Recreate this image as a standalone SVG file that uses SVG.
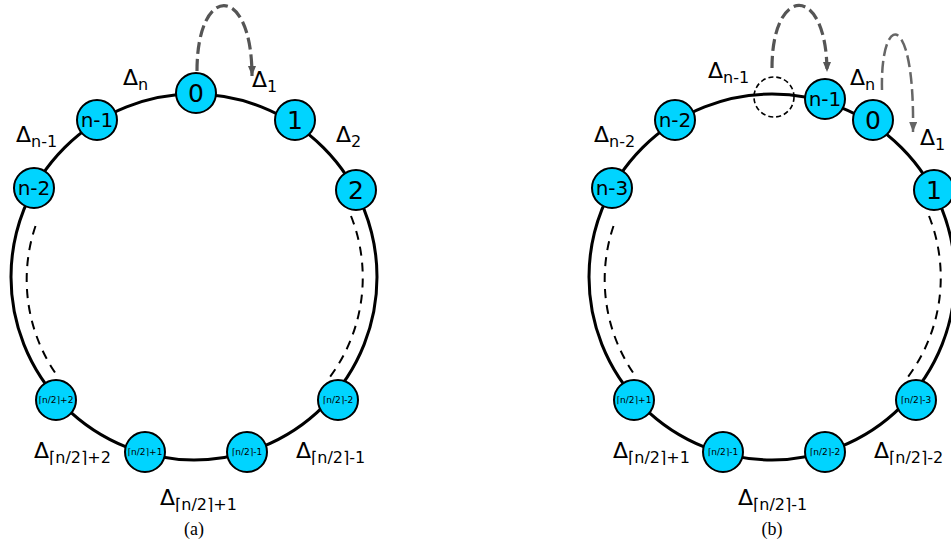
<svg xmlns="http://www.w3.org/2000/svg" width="951" height="543" viewBox="0 0 951 543">
<style>
.ring{fill:none;stroke:#000;stroke-width:3}
.darc{fill:none;stroke:#000;stroke-width:2;stroke-dasharray:9 7}
.node{fill:#00d4ff;stroke:#000;stroke-width:2}
.ghost{fill:none;stroke:#000;stroke-width:1.6;stroke-dasharray:5 3}
.loop{fill:none;stroke:#555;stroke-width:3.2;stroke-dasharray:12 5}
.loop2{fill:none;stroke:#666;stroke-width:2.5;stroke-dasharray:12 5}
.big{font-family:"DejaVu Sans",sans-serif;font-size:25px;text-anchor:middle}
.mid{font-family:"DejaVu Sans",sans-serif;font-size:20px;text-anchor:middle}
.sm{font-family:"DejaVu Sans",sans-serif;font-size:9px;text-anchor:middle}
.lab{font-family:"DejaVu Sans",sans-serif;font-size:22px}
.sub{font-size:16px}
.cap{font-family:"Liberation Serif",serif;font-size:18px;text-anchor:middle}
</style>
<defs>
<marker id="ah" markerUnits="userSpaceOnUse" markerWidth="12" markerHeight="10" refX="10" refY="4" orient="auto">
<path d="M0,0 L10,4 L0,8 Z" fill="#555"/>
</marker>
<marker id="ah2" markerUnits="userSpaceOnUse" markerWidth="12" markerHeight="10" refX="10" refY="4" orient="auto">
<path d="M0,0 L10,4 L0,8 Z" fill="#666"/>
</marker>
</defs>

<g id="connectors">
<circle class="ring" cx="194" cy="277" r="183"/>
<path class="darc" d="M35.5,226 A167,167 0 0 0 58.8,378"/>
<path class="darc" d="M351,216 A167,167 0 0 1 329.2,378"/>
<path class="loop" d="M197,71 C197,-17 252,-17 252,76" marker-end="url(#ah)"/>

<circle class="ring" cx="772" cy="277" r="183"/>
<path class="darc" d="M613.5,226 A167,167 0 0 0 636.8,378"/>
<path class="darc" d="M929,216 A167,167 0 0 1 907.2,378"/>
<path class="loop" d="M772,68 C772,-16 827,-16 827,72" marker-end="url(#ah)"/>
<path class="loop2" d="M882,90 C880,12 915,8 913,132" marker-end="url(#ah2)"/>
</g>

<g id="node-a-0"><circle class="node" cx="196" cy="93" r="20"/><text class="big" x="196" y="102">0</text></g>
<g id="node-a-1"><circle class="node" cx="295" cy="120" r="20"/><text class="big" x="295" y="129">1</text></g>
<g id="node-a-2"><circle class="node" cx="356" cy="190" r="20"/><text class="big" x="356" y="199">2</text></g>
<g id="node-a-n1"><circle class="node" cx="97" cy="120" r="20"/><text class="mid" x="97" y="127">n-1</text></g>
<g id="node-a-n2"><circle class="node" cx="34" cy="188" r="20"/><text class="mid" x="34" y="195">n-2</text></g>
<g id="node-a-h2"><circle class="node" cx="56" cy="400" r="20"/><text class="sm" x="56" y="403">⌈n/2⌉+2</text></g>
<g id="node-a-h1"><circle class="node" cx="145" cy="452" r="20"/><text class="sm" x="145" y="455">⌈n/2⌉+1</text></g>
<g id="node-a-hm1"><circle class="node" cx="247" cy="452" r="20"/><text class="sm" x="247" y="455">⌈n/2⌉-1</text></g>
<g id="node-a-hm2"><circle class="node" cx="338" cy="400" r="20"/><text class="sm" x="338" y="403">⌈n/2⌉-2</text></g>

<g id="node-b-ghost"><circle class="ghost" cx="774" cy="97" r="20"/></g>
<g id="node-b-n1"><circle class="node" cx="825" cy="99" r="20"/><text class="mid" x="825" y="106">n-1</text></g>
<g id="node-b-0"><circle class="node" cx="873" cy="120" r="20"/><text class="big" x="873" y="129">0</text></g>
<g id="node-b-1"><circle class="node" cx="934" cy="190" r="20"/><text class="big" x="934" y="199">1</text></g>
<g id="node-b-n2"><circle class="node" cx="675" cy="120" r="20"/><text class="mid" x="675" y="127">n-2</text></g>
<g id="node-b-n3"><circle class="node" cx="612" cy="188" r="20"/><text class="mid" x="612" y="195">n-3</text></g>
<g id="node-b-h1"><circle class="node" cx="634" cy="400" r="20"/><text class="sm" x="634" y="403">⌈n/2⌉+1</text></g>
<g id="node-b-hm1"><circle class="node" cx="723" cy="452" r="20"/><text class="sm" x="723" y="455">⌈n/2⌉-1</text></g>
<g id="node-b-hm2"><circle class="node" cx="825" cy="452" r="20"/><text class="sm" x="825" y="455">⌈n/2⌉-2</text></g>
<g id="node-b-hm3"><circle class="node" cx="916" cy="400" r="20"/><text class="sm" x="916" y="403">⌈n/2⌉-3</text></g>

<g id="labels">
<text class="lab" x="123" y="85">Δ<tspan class="sub" dy="5">n</tspan></text>
<text class="lab" x="252" y="87">Δ<tspan class="sub" dy="5">1</tspan></text>
<text class="lab" x="336" y="142">Δ<tspan class="sub" dy="5">2</tspan></text>
<text class="lab" x="16" y="142">Δ<tspan class="sub" dy="5">n-1</tspan></text>
<text class="lab" x="34" y="458">Δ<tspan class="sub" dy="5">⌈n/2⌉+2</tspan></text>
<text class="lab" x="160" y="505">Δ<tspan class="sub" dy="5">⌈n/2⌉+1</tspan></text>
<text class="lab" x="296" y="458">Δ<tspan class="sub" dy="5">⌈n/2⌉-1</tspan></text>

<text class="lab" x="708" y="78">Δ<tspan class="sub" dy="5">n-1</tspan></text>
<text class="lab" x="850" y="85">Δ<tspan class="sub" dy="5">n</tspan></text>
<text class="lab" x="920" y="145">Δ<tspan class="sub" dy="5">1</tspan></text>
<text class="lab" x="594" y="142">Δ<tspan class="sub" dy="5">n-2</tspan></text>
<text class="lab" x="613" y="458">Δ<tspan class="sub" dy="5">⌈n/2⌉+1</tspan></text>
<text class="lab" x="738" y="505">Δ<tspan class="sub" dy="5">⌈n/2⌉-1</tspan></text>
<text class="lab" x="874" y="458">Δ<tspan class="sub" dy="5">⌈n/2⌉-2</tspan></text>

<text class="cap" x="194" y="535">(a)</text>
<text class="cap" x="772" y="535">(b)</text>
</g>
</svg>
